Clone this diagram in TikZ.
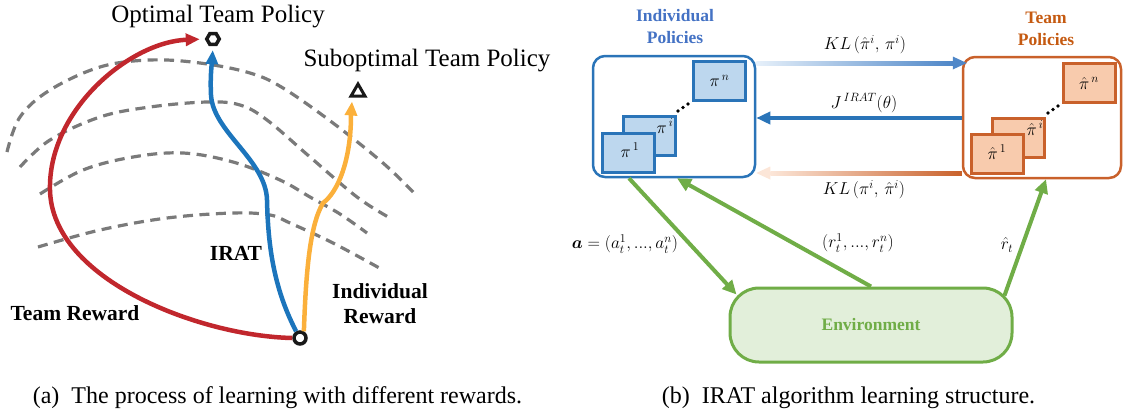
\documentclass[tikz,border=0pt]{standalone}
\usepackage{amsmath}
\usepackage{fontspec}
\setmainfont{Liberation Serif}
\usetikzlibrary{shapes.geometric,arrows.meta,calc}

\definecolor{redpath}{HTML}{C1272D}
\definecolor{bluepath}{HTML}{1C75BC}
\definecolor{yellowpath}{HTML}{FBB03B}
\definecolor{dashgray}{HTML}{7A7A7A}
\definecolor{kblue}{HTML}{2A74B8}
\definecolor{kbluefill}{HTML}{BDD7EE}
\definecolor{kbluetext}{HTML}{4472C4}
\definecolor{kbluemid}{HTML}{4F87C8}
\definecolor{kbluelight}{HTML}{E6F0FA}
\definecolor{korange}{HTML}{C9612B}
\definecolor{korangefill}{HTML}{F8CBAD}
\definecolor{korangetext}{HTML}{C55A11}
\definecolor{korangelight}{HTML}{FCE6D8}
\definecolor{kgreen}{HTML}{70AD47}
\definecolor{kgreenfill}{HTML}{E2EFDA}

\begin{document}
\begin{tikzpicture}[x=1pt,y=-1pt,
  lbl/.style={font=\fontsize{24}{28}\selectfont, inner sep=0pt},
  toplbl/.style={font=\fontsize{25}{28}\selectfont, inner sep=0pt},
  boldlbl/.style={font=\fontsize{21.5}{25}\selectfont\bfseries, align=center, inner sep=0pt},
  headlbl/.style={font=\fontsize{17.5}{22}\selectfont\bfseries, align=center, inner sep=0pt},
  mathlbl/.style={font=\fontsize{17}{20}\selectfont, inner sep=0pt},
  pilbl/.style={font=\fontsize{18}{20}\selectfont, inner sep=0pt},
  level/.style={dashgray, line width=3.2pt, dash pattern=on 10pt off 6.5pt},
  pathline/.style={line width=4.5pt, -{Triangle[length=14pt,width=12pt]}},
  marker/.style={draw=black!90, line width=3.5pt, inner sep=0pt},
  bigbox/.style={draw, line width=2.5pt, rounded corners=12pt, inner sep=0pt, minimum height=121pt},
  polbox/.style={draw, line width=3pt, inner sep=0pt, minimum width=52pt, minimum height=39pt},
  garrow/.style={kgreen, line width=4pt, -{Triangle[length=14pt,width=13pt]}},
]
\useasboundingbox (0,0) rectangle (1124,416);

% ---------- (a) learning with different rewards ----------
\draw[level] plot[smooth, tension=0.6] coordinates {(7,152) (20,117) (50,90) (100,67) (150,60) (200,63) (250,73) (283,88) (333,123) (383,163) (414,193)};
\draw[level] plot[smooth, tension=0.6] coordinates {(20,167) (50,140) (100,117) (150,107) (207,102) (240,105) (267,120) (310,157) (357,197) (390,218)};
\draw[level] plot[smooth, tension=0.6] coordinates {(40,194) (83,170) (133,157) (183,153) (233,162) (280,180) (310,197) (340,214) (367,233)};
\draw[level] plot[smooth, tension=0.6] coordinates {(38,247) (100,230) (167,218) (233,213) (270,215) (290,223) (333,243) (383,270)};

\node[marker, regular polygon, regular polygon sides=6, minimum size=12.5pt, fill=white] (opt) at (213,39) {};
\node[marker, regular polygon, regular polygon sides=3, minimum size=16pt, line width=3pt, fill=white] (sub) at (358,92) {};
\node[marker, circle, minimum size=12pt, fill=white] (s) at (300,338) {};
\coordinate (subtip) at ($(sub.south)+(-6,4)$);

\draw[pathline, redpath, shorten >=5pt] (s.west) .. controls (200,336) and (52,280) .. (50,190)
  .. controls (48,110) and (130,42) .. (opt.west);
\draw[pathline, bluepath, shorten >=4pt] (s.120) .. controls (272,285) and (268,240) .. (267,200)
  .. controls (266,160) and (213,132) .. (211,95)
  .. controls (210,75) and (212,62) .. (opt.south);
\draw[pathline, yellowpath] (s.60) .. controls (306,270) and (310,225) .. (323,203)
  .. controls (338,192) and (351,160) .. (351,115) -- (subtip);

\node[toplbl] (lopt) at (218,16.5) {Optimal Team Policy};
\node[toplbl] (lsub) at (427,60.5) {Suboptimal Team Policy};
\node[boldlbl] (lirat) at (236,253.5) {IRAT};
\node[boldlbl] (lteam) at (75,313.5) {Team Reward};
\node[boldlbl] (lind) at (380,304) {Individual\\Reward};

\node[lbl] (capa) at (277.5,398) {(a)\ \ The process of learning with different rewards.};

% ---------- (b) IRAT learning structure ----------
\node[bigbox, draw=kblue, minimum width=162pt] (ind) at (674,116.5) {};
\node[bigbox, draw=korange, minimum width=158pt] (team) at (1042,117.5) {};

\node[polbox, draw=kblue, fill=kbluefill] (bn) at (719.5,81) {};
\node[polbox, draw=kblue, fill=kbluefill] (bi) at (649,136) {};
\node[polbox, draw=kblue, fill=kbluefill] (b1) at (628,152.5) {};
\node[pilbl] at (bn) {$\pi^{\,n}$};
\node[pilbl] at (665,126) {$\pi^{\,i}$};
\node[pilbl] at (630,150) {$\pi^{\,1}$};
\foreach \p in {(678,111),(683,107.5),(688,104)} \fill[black] \p circle (1.9pt);

\node[polbox, draw=korange, fill=korangefill] (on) at (1089,83) {};
\node[polbox, draw=korange, fill=korangefill] (oi) at (1018.5,137.5) {};
\node[polbox, draw=korange, fill=korangefill] (o1) at (997.5,154) {};
\node[pilbl] at (on) {$\hat{\pi}^{\,n}$};
\node[pilbl] at (1035,128) {$\hat{\pi}^{\,i}$};
\node[pilbl] at (997,152) {$\hat{\pi}^{\,1}$};
\foreach \p in {(1048,113),(1053,109.5),(1058,106)} \fill[black] \p circle (1.9pt);

\node[headlbl, text=kbluetext] (hind) at (675,27) {Individual\\Policies};
\node[headlbl, text=korangetext] (hteam) at (1046,29) {Team\\Policies};

% KL arrow towards the team policies (fading in from the left)
\coordinate (kltip) at ($(team.west |- 0,63)+(5,0)$);
\shade[left color=kbluelight, right color=kbluemid] (ind.east |- 0,61) rectangle ($(kltip)+(-14,2)$);
\fill[kbluemid] ($(kltip)+(-14,-6.5)$) -- (kltip) -- ($(kltip)+(-14,6.5)$) -- cycle;
\node[mathlbl] (lkl1) at (865,45) {$KL\,(\hat{\pi}^{i},\,\pi^{i})$};

% objective arrow back to the individual policies
\draw[kblue, line width=4pt, -{Triangle[length=14pt,width=12pt]}] (team.west |- 0,118) -- (ind.east |- 0,118);
\node[mathlbl] (lj) at (864,103) {$J^{\,IRAT}(\theta)$};

% KL arrow towards the individual policies (fading out to the left)
\coordinate (kltipb) at (ind.east |- 0,173);
\shade[left color=korangelight, right color=korange] ($(kltipb)+(14,-2)$) rectangle (team.west |- 0,175);
\fill[korangelight] ($(kltipb)+(14,-6.5)$) -- (kltipb) -- ($(kltipb)+(14,6.5)$) -- cycle;
\node[mathlbl] (lkl2) at (864,190) {$KL\,(\pi^{i},\,\hat{\pi}^{i})$};

% environment and its connectors
\node[draw=kgreen, fill=kgreenfill, line width=3pt, rounded corners=29pt, minimum width=282pt, minimum height=74pt,
  font=\fontsize{17.5}{20}\selectfont\bfseries, text=kgreen] (env) at (871,325) {Environment};

\draw[garrow] (629,0 |- ind.south) -- ($(env.north west)+(8,8)$);
\draw[garrow] (env.north) -- (677,0 |- ind.south);
\draw[garrow] ($(env.north east)+(-9,9)$) -- (1046,0 |- team.south);

\node[mathlbl] (la) at (625,244) {$\boldsymbol{a}=(a_t^1,...,a_t^n)$};
\node[mathlbl] (lr) at (858,243) {$(r_t^1,...,r_t^n)$};
\node[mathlbl] (lrh) at (1007,245) {$\hat{r}_t$};

\node[lbl] (capb) at (848.5,398) {(b)\ \ IRAT algorithm learning structure.};
\end{tikzpicture}
\end{document}
